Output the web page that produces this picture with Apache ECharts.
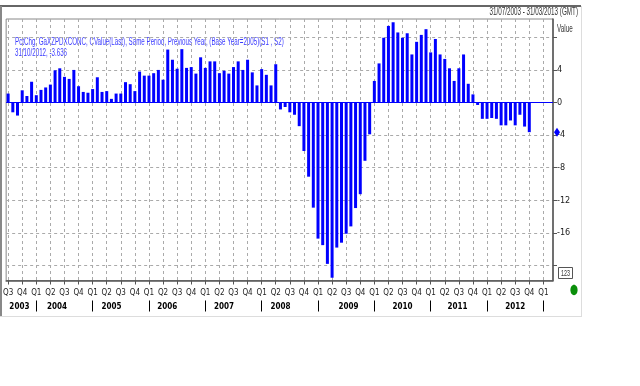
<!DOCTYPE html>
<html><head><meta charset="utf-8">
<script src="https://cdn.jsdelivr.net/npm/echarts@6/dist/echarts.min.js"></script>
<style>html,body{margin:0;padding:0;background:#fff}#c{width:640px;height:386px}</style>
</head><body><div id="c"></div>
<script>
// Monthly values, Jul 2003 .. Oct 2012 (index 0 = Jul 2003)
const values = [
  1.1, -1.2, -1.6, 1.5, 0.8, 2.55,
  0.9, 1.55, 1.85, 2.2, 3.95, 4.2, 3.15, 2.9, 4.0, 2.0, 1.3, 1.2,
  1.65, 3.1, 1.3, 1.4, 0.45, 1.1, 1.1, 2.5, 2.25, 1.4, 3.8, 3.3,
  3.3, 3.6, 4.0, 2.8, 6.5, 5.25, 4.15, 6.55, 4.25, 4.35, 3.55, 5.55,
  4.25, 5.05, 5.05, 3.6, 3.9, 3.55, 4.35, 5.05, 4.0, 5.25, 3.7, 2.1,
  4.1, 3.4, 2.1, 4.7, -0.85, -0.55, -1.2, -1.5, -2.9, -5.95, -9.1, -12.9,
  -16.7, -17.5, -19.8, -21.5, -17.8, -17.2, -16.1, -15.2, -12.95, -11.25, -7.15, -3.9,
  2.65, 4.8, 7.95, 9.4, 9.85, 8.6, 7.95, 8.5, 5.9, 7.45, 8.3, 9.0,
  6.15, 7.8, 5.9, 5.35, 4.2, 2.65, 4.2, 5.9, 2.3, 1.0, -0.3, -2.0,
  -2.0, -1.9, -2.0, -2.8, -2.8, -2.2, -2.8, -1.5, -2.95, -3.636
];
// Quarter tick labels, every 3 months from Jul 2003 to Jan 2013
const quarterLabels = ['Q3','Q4',
  'Q1','Q2','Q3','Q4','Q1','Q2','Q3','Q4','Q1','Q2','Q3','Q4',
  'Q1','Q2','Q3','Q4','Q1','Q2','Q3','Q4','Q1','Q2','Q3','Q4',
  'Q1','Q2','Q3','Q4','Q1','Q2','Q3','Q4','Q1','Q2','Q3','Q4','Q1'];
const yearLabels = ['2003','2004','2005','2006','2007','2008','2009','2010','2011','2012'];
const yTickValues = [-20,-16,-12,-8,-4,0,4,8];
const yLabelValues = [-16,-12,-8,-4,0,4];
const titleText = 'PctChg, GaXZPDXCONC, CValue(Last), Same Period, Previous Year, (Base Year=2005)(S1 , S2)';
const lastText = '31/10/2012, -3.636';
const rangeText = '31/07/2003 - 31/03/2013 (GMT)';
const axisName = 'Value';

// layout (month index scale)
const xMin = -0.42, xMax = 116.05;
const quarterPos = quarterLabels.map((_, k) => k * 3);
const yearTickPos = yearLabels.map((_, k) => 6 + 12 * k);
const yearLabelPos = [2.4, 10.4, 22, 33.9, 46, 58, 72.5, 84, 95.7, 108];

const narrow = "'Liberation Sans Narrow','DejaVu Sans Condensed','Arial Narrow',Arial,sans-serif";
const chart = echarts.init(document.getElementById('c'), null, {renderer: 'canvas'});
chart.setOption({
  animation: false,
  backgroundColor: '#fff',
  grid: {left: 5, right: 87, top: 19, bottom: 105.5, show: true, borderColor: '#888', borderWidth: 1, backgroundColor: 'transparent'},
  xAxis: [{
    type: 'value', min: xMin, max: xMax, position: 'bottom',
    axisLine: {show: true, onZero: false, lineStyle: {color: '#555', width: 1.5}},
    axisTick: {show: true, customValues: quarterPos, length: 4, lineStyle: {color: '#555'}},
    axisLabel: {customValues: quarterPos, formatter: v => quarterLabels[Math.round(v / 3)],
      fontSize: 8, color: '#222', margin: 8, fontFamily: narrow},
    splitLine: {show: true, lineStyle: {color: '#aaa', type: [3, 3], width: 1}}
  }, {
    type: 'value', min: xMin, max: xMax, position: 'bottom', offset: 20,
    axisLine: {show: false, onZero: false},
    axisTick: {show: true, customValues: yearTickPos, length: 11, lineStyle: {color: '#000'}},
    axisLabel: {customValues: yearLabelPos, formatter: v => {
        let best = 0;
        yearLabelPos.forEach((p, k) => { if (Math.abs(p - v) < Math.abs(yearLabelPos[best] - v)) best = k; });
        return yearLabels[best];
      }, fontSize: 8, fontWeight: 'bold', color: '#000', margin: 2, fontFamily: narrow},
    splitLine: {show: false}
  }],
  yAxis: {
    type: 'value', position: 'right', min: -21.84, max: 10.25,
    axisLine: {show: true, onZero: false, lineStyle: {color: '#555', width: 1.5}},
    axisTick: {show: true, customValues: yTickValues, length: 4, lineStyle: {color: '#555'}},
    axisLabel: {customValues: yLabelValues, fontSize: 9, color: '#222', margin: 4, fontFamily: narrow},
    splitLine: {show: true, lineStyle: {color: '#aaa', type: [3, 3], width: 1}}
  },
  series: [{
    type: 'bar', xAxisIndex: 0, yAxisIndex: 0,
    data: values.map((v, i) => [i, v]),
    barWidth: 3,
    itemStyle: {color: '#0000ff'},
    markLine: {silent: true, symbol: 'none', label: {show: false},
      lineStyle: {color: '#0000ff', width: 1, type: 'solid'}, data: [{yAxis: 0}]},
    markPoint: {silent: true, symbol: 'diamond', symbolSize: [6, 9], label: {show: false},
      itemStyle: {color: '#0000ff'},
      data: [{coord: [xMax, values[values.length - 1]], symbolOffset: [4, 0]}]}
  }],
  graphic: [
    {type: 'line', shape: {x1: 0, y1: 6, x2: 581, y2: 6}, style: {stroke: '#666', lineWidth: 2}, silent: true},
    {type: 'line', shape: {x1: 1, y1: 6, x2: 1, y2: 316}, style: {stroke: '#888', lineWidth: 2}, silent: true},
    {type: 'line', shape: {x1: 581.5, y1: 6, x2: 581.5, y2: 316}, style: {stroke: '#ddd', lineWidth: 1}, silent: true},
    {type: 'line', shape: {x1: 0, y1: 316.5, x2: 582, y2: 316.5}, style: {stroke: '#ddd', lineWidth: 1}, silent: true},
    {type: 'text', x: 578, y: 12, scaleX: 0.63, silent: true,
      style: {text: rangeText, fill: '#333', font: '10px Arial, sans-serif', textAlign: 'right', textVerticalAlign: 'middle', verticalAlign: 'middle'}},
    {type: 'text', x: 15, y: 42.5, scaleX: 0.62, silent: true,
      style: {text: titleText, fill: '#3a3aff', font: '10px Arial, sans-serif', textAlign: 'left', textVerticalAlign: 'middle', verticalAlign: 'middle'}},
    {type: 'text', x: 15, y: 53, scaleX: 0.62, silent: true,
      style: {text: lastText, fill: '#3a3aff', font: '10px Arial, sans-serif', textAlign: 'left', textVerticalAlign: 'middle', verticalAlign: 'middle'}},
    {type: 'text', x: 557, y: 29, scaleX: 0.63, silent: true,
      style: {text: axisName, fill: '#333', font: '10px Arial, sans-serif', textAlign: 'left', textVerticalAlign: 'middle', verticalAlign: 'middle'}},
    {type: 'rect', shape: {x: 558.5, y: 267.5, width: 14, height: 11}, style: {fill: '#fff', stroke: '#555', lineWidth: 1}, silent: true, z: 10},
    {type: 'text', x: 565.5, y: 273.5, scaleX: 0.6, silent: true, z: 11,
      style: {text: '123', fill: '#333', font: '9px Arial, sans-serif', textAlign: 'center', textVerticalAlign: 'middle', verticalAlign: 'middle'}},
    {type: 'ellipse', shape: {cx: 574, cy: 290, rx: 3.6, ry: 5.2}, style: {fill: '#0b8f0b'}, silent: true}
  ]
});
</script>
</body></html>
